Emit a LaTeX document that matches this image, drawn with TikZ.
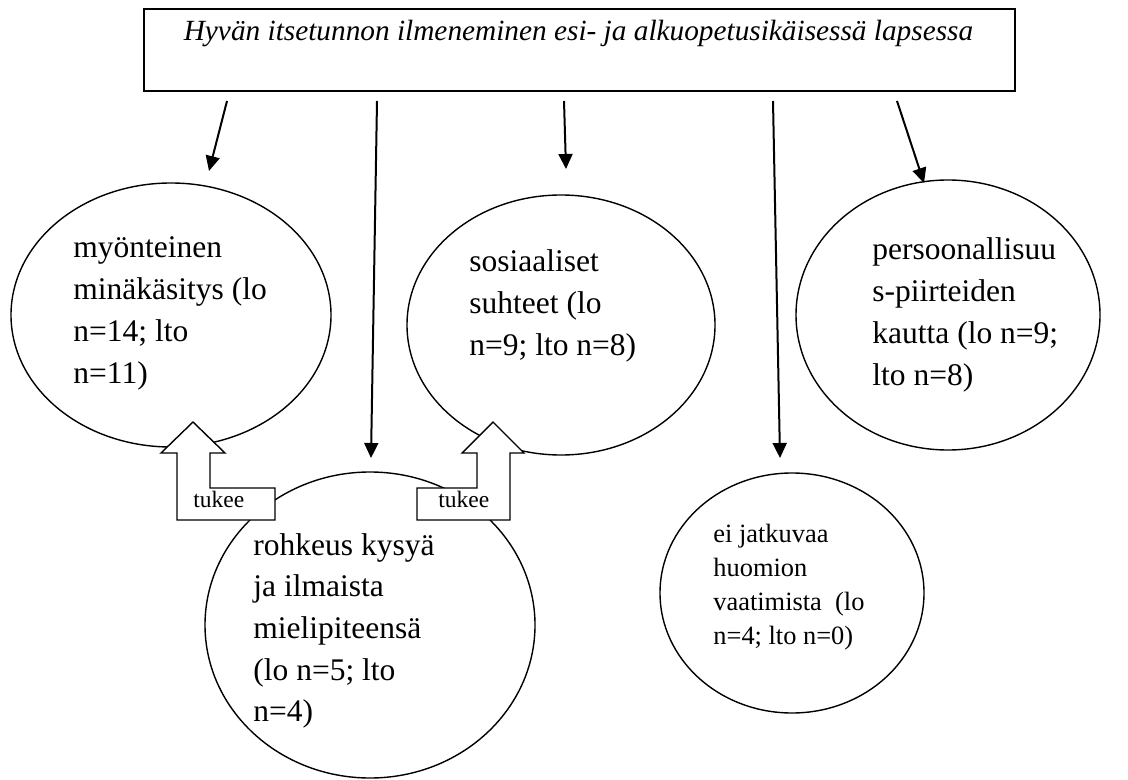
\documentclass[tikz,border=0pt]{standalone}
\usepackage{fontspec}
\setmainfont{Liberation Serif}
\usetikzlibrary{shapes.geometric,arrows.meta}
\newcommand{\mylines}[1]{\begin{tabular}[t]{@{}l@{}}#1\end{tabular}}
\tikzset{
  ell/.style={draw, ellipse, line width=0.7pt, inner sep=0pt},
  bodytext/.style={font=\fontsize{15.75}{20.85}\selectfont, inner sep=0pt, anchor=base west},
  smalltext/.style={font=\fontsize{13.2}{17.15}\selectfont, inner sep=0pt, anchor=base west},
  tukeetext/.style={font=\fontsize{11.75}{14}\selectfont, inner sep=0pt, anchor=base west},
  arr/.style={line width=1pt, -{Triangle[width=7pt,length=7.5pt]}},
  bigarrow/.style={draw, fill=white, line width=0.7pt, line join=miter},
}
\begin{document}
\begin{tikzpicture}[x=0.5pt,y=-0.5pt]
\useasboundingbox (0,0) rectangle (1128,780);
% title box
\node[draw, line width=1pt, minimum width=435.5pt, minimum height=41pt, inner sep=0pt] (box) at (579.5,50) {};
\node[font=\fontsize{14.65}{18}\selectfont\itshape, inner sep=0pt, anchor=base] (title) at (578.5,41) {Hyvän itsetunnon ilmeneminen esi- ja alkuopetusikäisessä lapsessa};
% ellipses
\node[ell, minimum width=160pt, minimum height=132pt] (e1) at (171,315) {};
\node[ell, minimum width=154pt, minimum height=130pt] (e2) at (561,325) {};
\node[ell, minimum width=152pt, minimum height=135pt] (e3) at (948,315) {};
\node[ell, minimum width=165pt, minimum height=153pt] (e4) at (370,625) {};
\node[ell, minimum width=132pt, minimum height=120pt] (e5) at (792,593) {};
% arrows from title
\coordinate (a1s) at (227,101); \coordinate (a1e) at (209,171);
\coordinate (a2s) at (377,101); \coordinate (a2e) at (371,458);
\coordinate (a3s) at (564,101); \coordinate (a3e) at (566,169);
\coordinate (a4s) at (773,101); \coordinate (a4e) at (780,458);
\coordinate (a5s) at (897,101); \coordinate (a5e) at (924,183);
\draw[arr] (a1s) -- (a1e);
\draw[arr] (a2s) -- (a2e);
\draw[arr] (a3s) -- (a3e);
\draw[arr] (a4s) -- (a4e);
\draw[arr] (a5s) -- (a5e);
% block arrows "tukee"
\draw[bigarrow] (177,520) -- (275,520) -- (275,488) -- (210,488) -- (210,453) -- (225,453) -- (193,422) -- (161,453) -- (177,453) -- cycle;
\draw[bigarrow] (510,520) -- (417,520) -- (417,488) -- (477,488) -- (477,453) -- (462,453) -- (493,422) -- (524,453) -- (510,453) -- cycle;
\node[tukeetext] (t1) at (193,507) {tukee};
\node[tukeetext] (t2) at (438,507) {tukee};
% texts
\node[bodytext] (e1t) at (73,258) {\mylines{myönteinen\\minäkäsitys (lo\\n=14; lto\\n=11)}};
\node[bodytext] (e2t) at (469,272) {\mylines{sosiaaliset\\suhteet (lo\\n=9; lto n=8)}};
\node[bodytext] (e3t) at (872,260) {\mylines{persoonallisuu\\s-piirteiden\\kautta (lo n=9;\\lto n=8)}};
\node[bodytext] (e4t) at (253,555) {\mylines{rohkeus kysyä\\ja ilmaista\\mielipiteensä\\(lo n=5; lto\\n=4)}};
\node[smalltext] (e5t) at (713,542) {\mylines{ei jatkuvaa\\huomion\\vaatimista\ \ (lo\\n=4; lto n=0)}};
\end{tikzpicture}
\end{document}
